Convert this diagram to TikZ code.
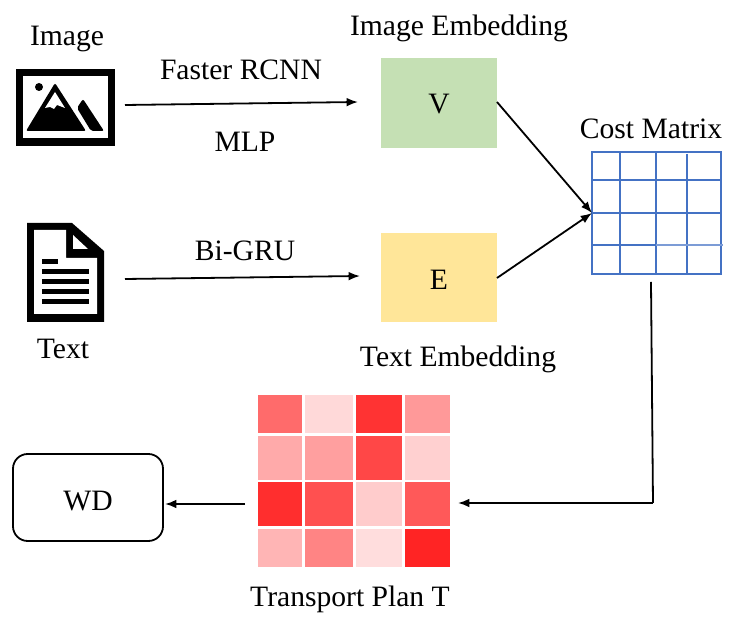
\documentclass[tikz,border=0pt]{standalone}
\usepackage{fontspec}
\setmainfont{Liberation Serif}
\usetikzlibrary{arrows.meta}
\definecolor{gridblue}{HTML}{4472C4}
\definecolor{vgreen}{HTML}{C5E0B4}
\definecolor{eyellow}{HTML}{FFE699}
\tikzset{
  lbl/.style={inner sep=0pt, font=\fontsize{22.2}{26}\selectfont},
  flow/.style={-{Latex[length=8.5pt,width=6.5pt]}, line width=1.35pt},
  cell/.style={draw=none, inner sep=0pt},
  gridline/.style={color=gridblue, line width=1.9pt},
  icon/.style={draw=none, inner sep=0pt}
}
\begin{document}
\begin{tikzpicture}[x=0.75pt,y=-0.75pt]
  \useasboundingbox (0,0) rectangle (733,630);

  % image icon
  \fill[black] (16,69) rectangle (115,146);
  \fill[white] (23,76) rectangle (108,138);
  \fill[black] (39,87) circle[radius=4];
  \fill[black, rounded corners=1.5pt] (55,83)--(86,131)--(26,131)--cycle;
  \fill[white] (55,92)--(45,108)--(50,107)--(54,109)--(57,105)--(65,108)--cycle;
  \fill[black, rounded corners=1.5pt] (83,99)--(77,108)--(91,131)--(104,131)--cycle;
  \node[icon, minimum width=74.25pt, minimum height=57.75pt] (imageicon) at (65.5,107.5) {};

  % text icon
  \fill[black] (27,223)--(72,223)--(104,251)--(104,322)--(27,322)--cycle;
  \fill[white] (34,230)--(66,230)--(66,258)--(97,258)--(97,314)--(34,314)--cycle;
  \fill[white] (73,235)--(88,249)--(73,249)--cycle;
  \fill[black] (42,259) rectangle (58,264);
  \fill[black] (42,269) rectangle (89,274);
  \fill[black] (42,279) rectangle (89,284);
  \fill[black] (42,289) rectangle (89,294);
  \fill[black] (42,299) rectangle (89,304);
  \node[icon, minimum width=57.75pt, minimum height=74.25pt] (texticon) at (65.5,272.5) {};

  % embeddings
  \node[fill=vgreen, minimum width=87pt, minimum height=67.5pt, lbl] (vbox) at (439,103) {\raisebox{-8.1pt}[0pt][0pt]{V}};
  \node[fill=eyellow, minimum width=87pt, minimum height=66.75pt, lbl] (ebox) at (439,277.5) {\raisebox{-9.2pt}[0pt][0pt]{E}};

  % cost matrix
  \node[draw=gridblue, line width=1.9pt, inner sep=0pt, minimum width=96.75pt, minimum height=91.5pt] (costmat) at (656.5,213) {};
  \draw[gridline] (620,152)--(620,274);
  \draw[gridline] (656,152)--(656,274);
  \draw[gridline] (687,154)--(687,275);
  \draw[gridline] (592,180)--(721,180);
  \draw[gridline] (592,213)--(721,213);
  \draw[gridline] (592,245)--(656,245);
  \draw[gridline, gridblue!70, line width=1.4pt] (656,245)--(723,245);

  % transport plan
  \node[cell, fill={rgb,255:red,255;green,107;blue,107}, minimum width=33pt, minimum height=28.5pt] (t11) at (280,414) {};
  \node[cell, fill={rgb,255:red,255;green,217;blue,217}, minimum width=36pt, minimum height=28.5pt] (t12) at (329,414) {};
  \node[cell, fill={rgb,255:red,255;green,51;blue,51}, minimum width=34.5pt, minimum height=28.5pt] (t13) at (379,414) {};
  \node[cell, fill={rgb,255:red,255;green,153;blue,153}, minimum width=33.75pt, minimum height=28.5pt] (t14) at (427.5,414) {};
  \node[cell, fill={rgb,255:red,255;green,170;blue,170}, minimum width=33pt, minimum height=33pt] (t21) at (280,458) {};
  \node[cell, fill={rgb,255:red,255;green,159;blue,159}, minimum width=36pt, minimum height=33pt] (t22) at (329,458) {};
  \node[cell, fill={rgb,255:red,255;green,71;blue,71}, minimum width=34.5pt, minimum height=33pt] (t23) at (379,458) {};
  \node[cell, fill={rgb,255:red,255;green,208;blue,208}, minimum width=33.75pt, minimum height=33pt] (t24) at (427.5,458) {};
  \node[cell, fill={rgb,255:red,255;green,46;blue,46}, minimum width=33pt, minimum height=33pt] (t31) at (280,504) {};
  \node[cell, fill={rgb,255:red,255;green,80;blue,80}, minimum width=36pt, minimum height=33pt] (t32) at (329,504) {};
  \node[cell, fill={rgb,255:red,255;green,204;blue,204}, minimum width=34.5pt, minimum height=33pt] (t33) at (379,504) {};
  \node[cell, fill={rgb,255:red,255;green,89;blue,89}, minimum width=33.75pt, minimum height=33pt] (t34) at (427.5,504) {};
  \node[cell, fill={rgb,255:red,255;green,181;blue,181}, minimum width=33pt, minimum height=28.5pt] (t41) at (280,548) {};
  \node[cell, fill={rgb,255:red,255;green,132;blue,132}, minimum width=36pt, minimum height=28.5pt] (t42) at (329,548) {};
  \node[cell, fill={rgb,255:red,255;green,221;blue,221}, minimum width=34.5pt, minimum height=28.5pt] (t43) at (379,548) {};
  \node[cell, fill={rgb,255:red,255;green,36;blue,36}, minimum width=33.75pt, minimum height=28.5pt] (t44) at (427.5,548) {};

  \node[draw, line width=1.35pt, rounded corners=11pt, minimum width=112.5pt, minimum height=65.25pt, lbl] (wd) at (88,497.5) {\raisebox{-9.9pt}[0pt][0pt]{WD}};

  % labels
  \node[lbl] (imagelabel) at (67,39) {Image};
  \node[lbl] (textlabel) at (63,349) {Text};
  \node[lbl] (rcnnlabel) at (241,70) {Faster RCNN};
  \node[lbl] (mlplabel) at (245,142) {MLP};
  \node[lbl] (grulabel) at (245,251) {Bi-GRU};
  \node[lbl] (vlabel) at (459,28) {Image Embedding};
  \node[lbl] (elabel) at (458,359) {Text Embedding};
  \node[lbl] (costlabel) at (651,129) {Cost Matrix};
  \node[lbl] (planlabel) at (350,599) {Transport Plan T};

  % free ends of the connectors
  \coordinate (imageout) at (125,105);
  \coordinate (vin) at (358,102);
  \coordinate (textout) at (125,279);
  \coordinate (ein) at (360,276);
  \coordinate (vout) at (497,102);
  \coordinate (eout) at (497,278);
  \coordinate (costin) at (592,213);
  \coordinate (costout) at (651,282);
  \coordinate (turn) at (653,503);
  \coordinate (planin) at (458,503);
  \coordinate (planout) at (245,504);
  \coordinate (wdin) at (165,504);

  \draw[flow] (imageout)--(vin);
  \draw[flow] (textout)--(ein);
  \draw[flow] (vout)--(costin);
  \draw[flow] (eout)--(costin);
  \draw[line width=1.35pt] (costout)--(turn);
  \draw[flow] (turn)--(planin);
  \draw[flow] (planout)--(wdin);
\end{tikzpicture}
\end{document}
